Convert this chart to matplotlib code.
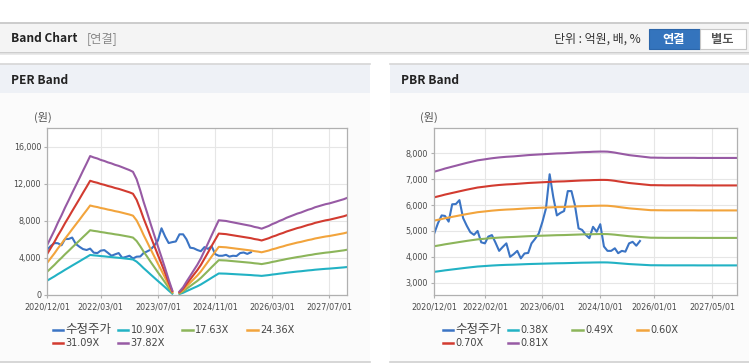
import numpy as np
import pandas as pd
import matplotlib
matplotlib.use("Agg")
import matplotlib.pyplot as plt
from matplotlib.patches import Rectangle
from matplotlib.lines import Line2D

plt.rcParams['font.family'] = ['DejaVu Sans', 'Noto Sans CJK KR']

# monthly axis 2020/12 .. 2027/12
dates = pd.date_range("2020-12-01", periods=85, freq="MS")

# adjusted close (수정주가), monthly, 2020/12 .. 2025/09
price = [4910, 5300, 5600, 5580, 5360, 6030, 6040, 6190, 5500, 5200,
         4950, 4850, 5000, 4560, 4520, 4780, 4840, 4550, 4230, 4380,
         4520, 4000, 4100, 4230, 3940, 4130, 4150, 4520, 4700, 4900,
         5350, 5870, 7190, 6300, 5600, 5700, 5770, 6540, 6540, 6000,
         5100, 5040, 4850, 4720, 5160, 4970, 5260, 4400, 4230, 4230,
         4330, 4140, 4230, 4200, 4520, 4580, 4430, 4610]

# EPS behind the PER bands (gap = negative earnings)
eps = [143, 164, 185, 206, 227, 249, 270, 291, 312, 333, 354, 375, 396,
       392, 389, 385, 382, 378, 375, 371, 368, 364, 360, 356, 351,
       330, 298, 266, 234, 202, 170, 139, 108, 76, 44, 13,
       np.nan,
       10, 22, 38, 54, 70, 86, 104, 126, 148, 170, 192, 213,
       212, 211, 209, 207, 205, 203, 201, 199, 197, 194, 192, 189,
       193, 197, 202, 206, 211, 215, 220, 224, 228, 232, 235, 239,
       243, 246, 250, 253, 256, 259, 261, 264, 267, 270, 273, 277]

# BPS behind the PBR bands
bps = [9000, 9050, 9100, 9150, 9195, 9240, 9285, 9330, 9375, 9420, 9460, 9500, 9540,
       9565, 9590, 9615, 9640, 9660, 9680, 9695, 9710, 9720, 9730, 9745, 9760,
       9775, 9790, 9800, 9810, 9820, 9830, 9840, 9850, 9860, 9870, 9875, 9880,
       9890, 9900, 9910, 9920, 9930, 9935, 9940, 9950, 9955, 9960, 9960, 9955,
       9935, 9910, 9880, 9850, 9820, 9790, 9770, 9750, 9730, 9710, 9690, 9670,
       9670, 9665, 9665, 9660, 9660, 9660, 9660, 9660, 9660, 9660, 9660, 9660,
       9655, 9655, 9655, 9655, 9655, 9655, 9655, 9655, 9655, 9655, 9655, 9655]

per_mult = [10.90, 17.63, 24.36, 31.09, 37.82]
pbr_mult = [0.38, 0.49, 0.60, 0.70, 0.81]
per_labels = ["10.90X", "17.63X", "24.36X", "31.09X", "37.82X"]
pbr_labels = ["0.38X", "0.49X", "0.60X", "0.70X", "0.81X"]

per_xticks = ["2020/12/01", "2022/03/01", "2023/07/01", "2024/11/01", "2026/03/01", "2027/07/01"]
pbr_xticks = ["2020/12/01", "2022/02/01", "2023/06/01", "2024/10/01", "2026/01/01", "2027/05/01"]
per_yticks = [0, 4000, 8000, 12000, 16000]
pbr_yticks = [3000, 4000, 5000, 6000, 7000, 8000]

price_color = "#3b74c4"
band_colors = ["#22b2c4", "#8cb55a", "#f2a43c", "#d23b30", "#975aa4"]

W, H = 749, 364
fig = plt.figure(figsize=(W / 100, H / 100), dpi=100)


def box(x, y, w, h, **kw):
    fig.add_artist(Rectangle((x / W, 1 - (y + h) / H), w / W, h / H,
                             transform=fig.transFigure, zorder=-5, **kw))


def hline(x0, x1, y, color, lw=1, z=-4):
    fig.add_artist(Line2D([x0 / W, x1 / W], [1 - y / H, 1 - y / H],
                          transform=fig.transFigure, color=color, lw=lw, zorder=z))


def txt(x, y, s, **kw):
    fig.text(x / W, 1 - y / H, s, va="center", **kw)


# header bar
box(0, 23, W, 30, fc="#f4f4f4", ec="none")
hline(0, W, 22.5, "#c4c4c4", 1.2)
hline(0, W, 53, "#c6c6c6", 1.2)
hline(0, W, 54.2, "#e6e6e6", 1.2)
txt(11, 38.5, "Band Chart", family="Noto Sans CJK KR", fontsize=8.6,
    fontweight="bold", color="#222")
txt(87, 38.5, "[연결]", family="Noto Sans CJK KR", fontsize=8.8, color="#888")
txt(641, 39, "단위 : 억원, 배, %", family="Noto Sans CJK KR", fontsize=8.6,
    color="#333", ha="right")
box(648.5, 29, 51, 20, fc="#3474bd", ec="#2c66aa", lw=0.8)
box(699.5, 29, 46.5, 20, fc="white", ec="#c8c8c8", lw=0.8)
txt(674, 39, "연결", family="Noto Sans CJK KR", fontsize=8.8,
    fontweight="bold", color="white", ha="center")
txt(722.5, 39, "별도", family="Noto Sans CJK KR", fontsize=8.8,
    fontweight="bold", color="#555", ha="center")

# panels
for px0, px1, title in [(0, 370, "PER Band"), (390, W, "PBR Band")]:
    box(px0, 64, px1 - px0, 29, fc="#eef1f6", ec="none")
    box(px0, 93, px1 - px0, 269, fc="#fbfbfb", ec="none")
    hline(px0, px1, 64.3, "#d6d6d6", 1.2)
    hline(px0, px1, 362, "#d0d0d0", 1.2)
    txt(px0 + 11, 80, title, family="Noto Sans CJK KR", fontsize=8.6,
        fontweight="bold", color="#222")


def setup(ax, xticks, yticks, ylim):
    ax.set_facecolor("white")
    ax.set_xlim(dates[0], dates[-1])
    ax.set_ylim(*ylim)
    ax.set_xticks(pd.to_datetime(xticks))
    ax.set_xticklabels(xticks)
    ax.set_yticks(yticks)
    ax.set_yticklabels([f"{v:,}" for v in yticks])
    ax.grid(True, color="#e6e6e6", lw=0.8)
    ax.set_axisbelow(True)
    for s in ax.spines.values():
        s.set_color("#b0b0b0")
        s.set_linewidth(0.9)
    ax.tick_params(colors="#b0b0b0", labelcolor="#4a4a4a", labelsize=5.8,
                   length=2.5, width=0.8, pad=2.0)
    ax.tick_params(axis="x", pad=3.2)
    for lab in ax.get_xticklabels() + ax.get_yticklabels():
        lab.set_family("DejaVu Sans")


def legend(x0, entries):
    for i, (label, color) in enumerate(entries):
        row, col = divmod(i, 4)
        lx = x0 + col * 64.8
        ly = 330 + row * 13.3
        hline(lx, lx + 10.6, ly, color, 1.8, z=3)
        if label == "수정주가":
            txt(lx + 13, ly - 0.5, label, family="Noto Sans CJK KR",
                fontsize=9, color="#444")
        else:
            txt(lx + 13, ly, label, family="DejaVu Sans", fontsize=7,
                color="#444")


pe = np.array(eps, dtype=float)
bp = np.array(bps, dtype=float)

ax1 = fig.add_axes([47.3 / W, 1 - 295 / H, 300 / W, 167 / H])
ax1.plot(dates[:len(price)], price, color=price_color, lw=1.5)
for m, c in zip(per_mult, band_colors):
    ax1.plot(dates, pe * m, color=c, lw=1.5)
setup(ax1, per_xticks, per_yticks, (0, 18000))
txt(42.5, 117.5, "(원)", family="Noto Sans CJK KR", fontsize=8,
    color="#555", ha="center")
legend(52.7, [("수정주가", price_color)] + list(zip(per_labels, band_colors)))

ax2 = fig.add_axes([434.3 / W, 1 - 295 / H, 303 / W, 166.7 / H])
ax2.plot(dates[:len(price)], price, color=price_color, lw=1.5)
for m, c in zip(pbr_mult, band_colors):
    ax2.plot(dates, bp * m, color=c, lw=1.5)
setup(ax2, pbr_xticks, pbr_yticks, (2525, 8966))
txt(429, 117.5, "(원)", family="Noto Sans CJK KR", fontsize=8,
    color="#555", ha="center")
legend(442.7, [("수정주가", price_color)] + list(zip(pbr_labels, band_colors)))

fig.savefig("out.png", dpi=100, facecolor="white")
